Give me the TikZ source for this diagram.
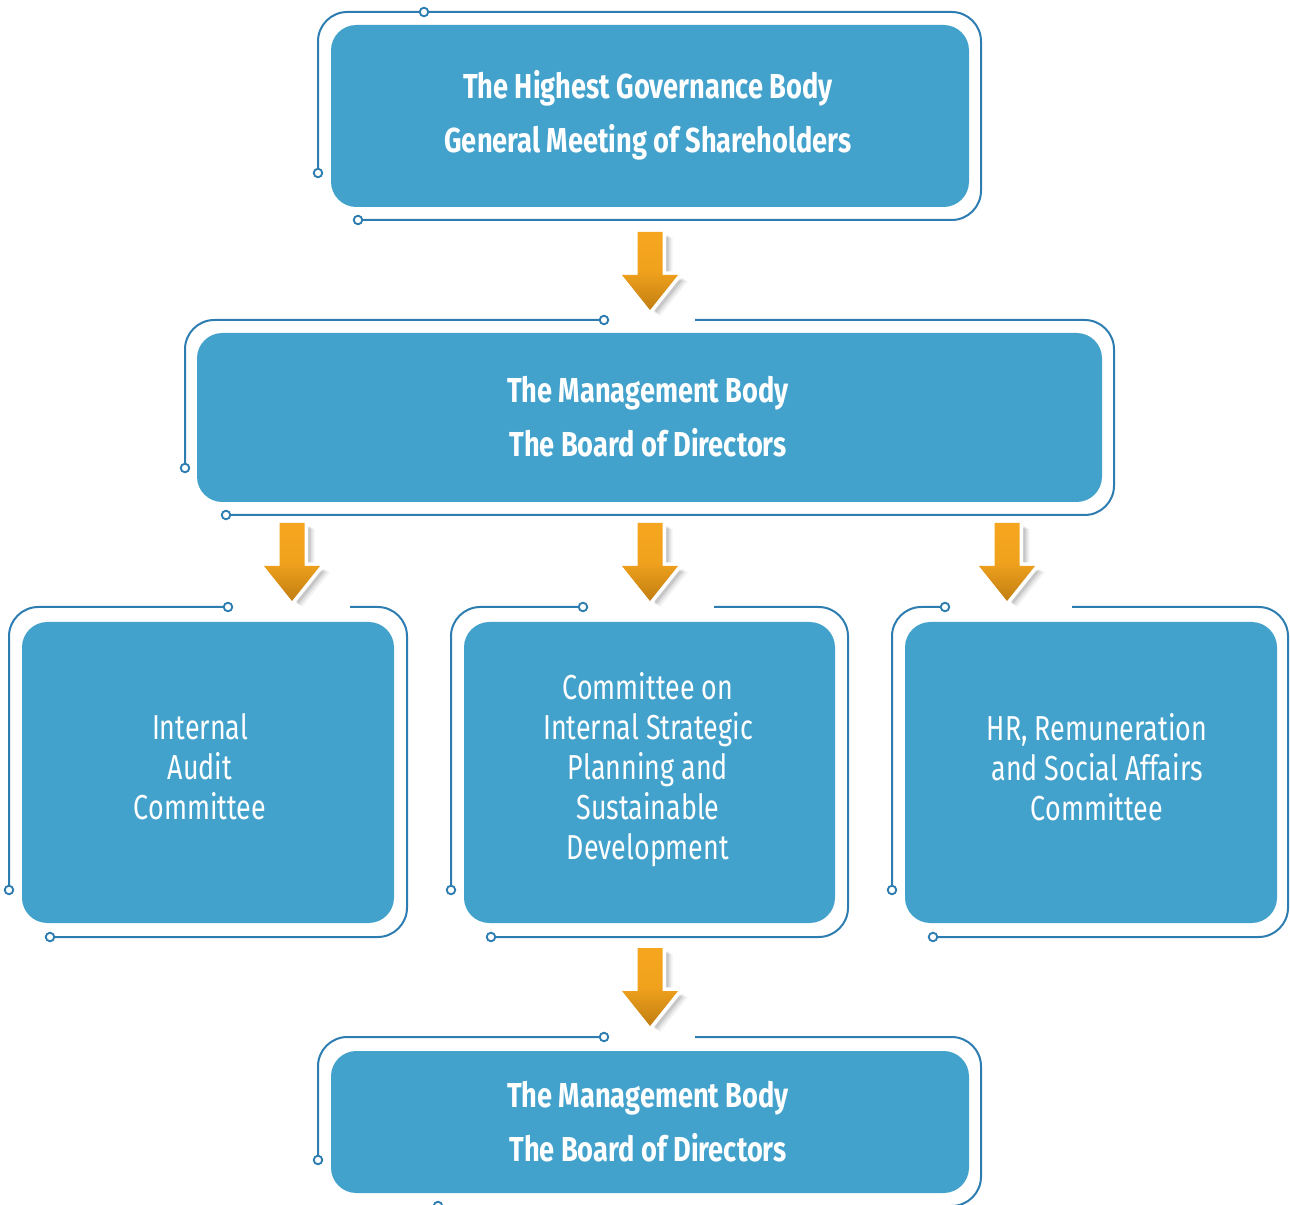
\documentclass[tikz,border=0pt]{standalone}
\usepackage{fontspec}
\setmainfont{Fira Sans}[FakeStretch=0.775, BoldFeatures={FakeStretch=0.785}]
\usetikzlibrary{calc}

\definecolor{boxblue}{HTML}{43A2CC}
\definecolor{framblue}{HTML}{2D7DB1}
\definecolor{arrowtop}{HTML}{F6A61E}
\definecolor{arrowbot}{HTML}{C17E12}

\tikzset{
  govbox/.style={fill=boxblue, rounded corners=19pt, text=white, align=center, inner sep=0pt},
  headtext/.style={font=\bfseries\fontsize{26}{40.5}\selectfont},
  comtext/.style={font=\fontsize{26}{30}\selectfont},
  frameline/.style={draw=framblue, line width=1.5pt, rounded corners=22pt},
  pin/.style={draw=framblue, line width=1.4pt, fill=white},
}

% frame around a box: corners (#1,#2)-(#3,#4), top pin x #5, top line resumes at x #6,
% left pin y #7, bottom pin x #8
\newcommand{\govframe}[8]{%
  \draw[frameline] (#5,#2) -- (#1,#2) -- (#1,#7);
  \draw[frameline] (#8,#4) -- (#3,#4) -- (#3,#2) -- (#6,#2);
  \draw[pin] (#5,#2) circle (3.2pt);
  \draw[pin] (#1,#7) circle (3.2pt);
  \draw[pin] (#8,#4) circle (3.2pt);
}

% orange down arrow with white rim and soft shadow, top centre at (#1,#2)
\newcommand{\govarrow}[2]{%
  \begin{scope}[shift={(#1,#2)}]
    \foreach \o/\op in {10/0.05,8/0.08,6/0.11}{
      \fill[black,opacity=\op,line join=round]
        (-12.5+\o,0+\o*0.6) -- (12.5+\o,0+\o*0.6) -- (12.5+\o,43+\o*0.6) -- (28+\o,43+\o*0.6)
        -- (0+\o,78+\o*0.6) -- (-28+\o,43+\o*0.6) -- (-12.5+\o,43+\o*0.6) -- cycle;
    }
    \draw[white,line width=5.5pt,line join=round,fill=white]
      (-12.5,0) -- (12.5,0) -- (12.5,43) -- (28,43) -- (0,78) -- (-28,43) -- (-12.5,43) -- cycle;
    \shade[top color=arrowtop, bottom color=arrowbot, middle color=arrowtop!90!arrowbot]
      (-12.5,0) -- (12.5,0) -- (12.5,43) -- (28,43) -- (0,78) -- (-28,43) -- (-12.5,43) -- cycle;
  \end{scope}
}

\begin{document}
\begin{tikzpicture}[x=0.75pt,y=-0.75pt]
  \useasboundingbox (0,0) rectangle (1290,1205);

  % frames
  \govframe{318}{12}{981}{220}{424}{424}{173}{358}
  \govframe{185}{320}{1114}{515}{604}{695}{468}{226}
  \govframe{9}{607}{407}{937}{228}{350}{890}{50}
  \govframe{451}{607}{848}{937}{583}{714}{890}{491}
  \govframe{892}{607}{1288}{937}{945}{1072}{890}{933}
  \govframe{318}{1037}{981}{1206}{604}{695}{1160}{438}

  % boxes
  \node[govbox, minimum width=478.5pt, minimum height=136.5pt] (gms) at (650,116) {};
  \node[headtext, text=white, align=center] (gmst) at (648,115)
    {The Highest Governance Body\\General Meeting of Shareholders};

  \node[govbox, minimum width=678.75pt, minimum height=126.75pt] (bod) at (649.5,417.5) {};
  \node[headtext, text=white, align=center] (bodt) at (648,417)
    {The Management Body\\The Board of Directors};

  \node[govbox, minimum width=279pt, minimum height=225.75pt] (iac) at (208,772.5) {};
  \node[comtext, text=white, align=center] (iact) at (200,767)
    {Internal\\Audit\\Committee};

  \node[govbox, minimum width=278.25pt, minimum height=225.75pt] (ispc) at (649.5,772.5) {};
  \node[comtext, text=white, align=center] (ispct) at (648,770)
    {Committee on\\Internal Strategic\\Planning and\\Sustainable\\Development};

  \node[govbox, minimum width=279pt, minimum height=225.75pt] (hrc) at (1091,772.5) {};
  \node[comtext, text=white, align=center] (hrct) at (1097,767)
    {HR, Remuneration\\and Social Affairs\\Committee};

  \node[govbox, minimum width=478.5pt, minimum height=106.5pt] (bod2) at (650,1122) {};
  \node[headtext, text=white, align=center] (bod2t) at (648,1122)
    {The Management Body\\The Board of Directors};

  % arrows
  \govarrow{650}{232}
  \govarrow{292}{523}
  \govarrow{650}{523}
  \govarrow{1007}{523}
  \govarrow{650}{948}
\end{tikzpicture}
\end{document}
